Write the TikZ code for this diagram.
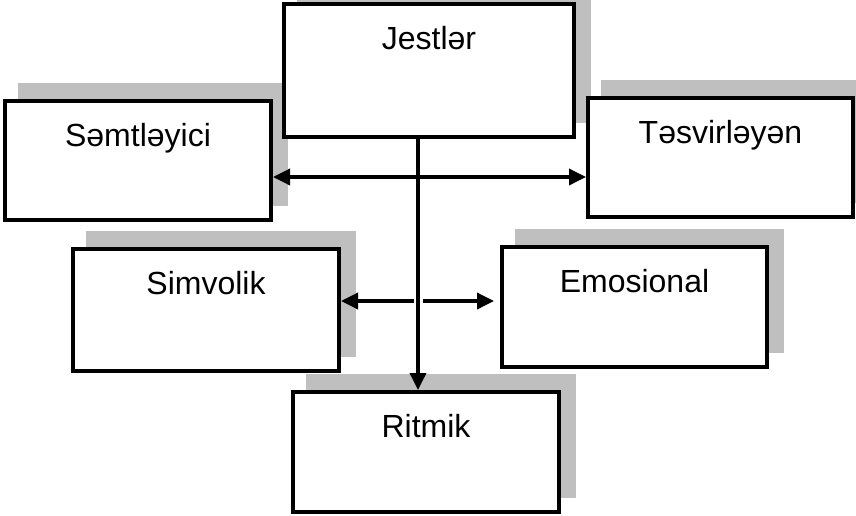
\documentclass[tikz,border=0pt]{standalone}
\usepackage{fontspec}
\setmainfont{Liberation Sans}
\usetikzlibrary{positioning, arrows.meta, calc, shadows}

\begin{document}
\begin{tikzpicture}[x=1pt, y=-1pt,
		box/.style={draw, line width=4pt, fill=white, inner sep=0pt, outer sep=0pt,
			text height=45pt, anchor=north west, font=\fontsize{32}{38}\selectfont,
			drop shadow={shadow xshift=15pt, shadow yshift=16pt, fill=black!25, draw=black!25, opacity=1}},
		arr/.style={line width=3.5pt, -{Triangle[length=17pt, width=16pt]}},
		dbl/.style={line width=3.5pt, {Triangle[length=17pt, width=16pt]}-{Triangle[length=17pt, width=16pt]}}]
		\path[use as bounding box, clip] (0,0) rectangle (856,515);

		\node[box, minimum width=266pt, text depth=74pt] (semt) at (5,101) {Səmtləyici};
		\node[box, minimum width=290pt, text depth=88pt] (jest) at (284,4) {Jestlər};
		\node[box, minimum width=265pt, text depth=74pt] (tesv) at (588,98) {Təsvirləyən};
		\node[box, minimum width=266pt, text depth=77pt] (simv) at (73,249) {Simvolik};
		\node[box, minimum width=265pt, text depth=75pt] (emos) at (502,247) {Emosional};
		\node[box, minimum width=266pt, text depth=75pt] (ritm) at (293,392) {Ritmik};

		\coordinate (top) at ([xshift=-11pt]jest.south);
		\coordinate (cross) at ([yshift=9pt]simv.east -| top);

		\draw[arr, shorten >=2pt] (top) -- (top |- ritm.north);
		\draw[dbl, shorten <=2pt, shorten >=2pt] ([yshift=-16.5pt]semt.east) -- ([yshift=-16.5pt]semt.east -| tesv.west);
		\draw[arr, shorten >=2pt] ([xshift=-4pt]cross) -- ([yshift=9pt]simv.east);
		\draw[arr] ([xshift=5pt]cross) -- ([xshift=-8pt]cross -| emos.west);
	\end{tikzpicture}
\end{document}
